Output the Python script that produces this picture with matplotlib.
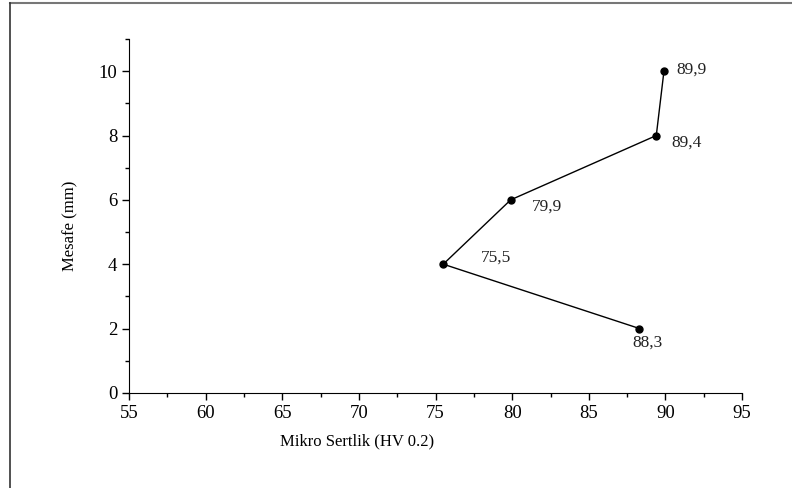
import matplotlib.pyplot as plt
from matplotlib.lines import Line2D
from matplotlib.ticker import MultipleLocator

plt.rcParams['font.family'] = ['Liberation Serif', 'DejaVu Serif']

# data
sertlik = [88.3, 75.5, 79.9, 89.4, 89.9]
mesafe = [2, 4, 6, 8, 10]
etiketler = ['88,3', '75,5', '79,9', '89,4', '89,9']
ofsetler = [(6, -10), (38, 5), (26, -5), (22, -5), (20, 1)]

fig = plt.figure(figsize=(7.92, 4.88), dpi=100)
ax = fig.add_axes([0.163, 0.195, 0.774, 0.725])

ax.plot(sertlik, mesafe, color='black', linewidth=1, marker='o',
        markersize=5, markerfacecolor='black')

for x, y, lab, off in zip(sertlik, mesafe, etiketler, ofsetler):
    ax.annotate(lab, (x, y), xytext=off, textcoords='offset points',
                ha='center', va='center', fontsize=12.5, color='#222222')

ax.set_xlim(55, 95)
ax.set_ylim(0, 11)
ax.xaxis.set_major_locator(MultipleLocator(5))
ax.xaxis.set_minor_locator(MultipleLocator(2.5))
ax.yaxis.set_major_locator(MultipleLocator(2))
ax.yaxis.set_minor_locator(MultipleLocator(1))
ax.tick_params(which='major', direction='out', length=5, width=1, labelsize=13.5)
ax.tick_params(which='minor', direction='out', length=3, width=1)

ax.spines['top'].set_visible(False)
ax.spines['right'].set_visible(False)

ax.set_xlabel('Mikro Sertlik (HV 0.2)', fontsize=12, va='center')
ax.xaxis.set_label_coords(0.372, -0.138)
ax.set_ylabel('Mesafe (mm)', fontsize=12, va='center')
ax.yaxis.set_label_coords(-0.096, 0.472)

# thin page frame seen at the top and left edges
fig.add_artist(Line2D([0.013, 1.0], [0.993, 0.993], color='#777777', linewidth=1.5,
                      transform=fig.transFigure))
fig.add_artist(Line2D([0.013, 0.013], [0.0, 0.993], color='#333333', linewidth=1.2,
                      transform=fig.transFigure))

fig.savefig('out.png', dpi=100)
